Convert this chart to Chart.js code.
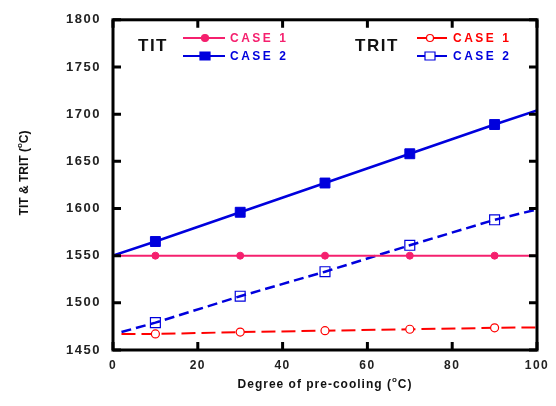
<!DOCTYPE html>
<html>
<head>
<meta charset="utf-8">
<script src="https://cdn.jsdelivr.net/npm/chart.js@4.4.0/dist/chart.umd.min.js"></script>
<style>
  html, body { margin: 0; padding: 0; background: #fff; }
  #wrap { width: 556px; height: 406px; position: relative; }
</style>
</head>
<body>
<div id="wrap"><canvas id="c" width="556" height="406"></canvas></div>
<script>
// ---- data ----
const xTIT = [0, 10, 30, 50, 70, 90, 100];
const titCase1 = [1550, 1550, 1550, 1550, 1550, 1550, 1550];
const titCase2 = [1550, 1565, 1596, 1627, 1658, 1689, 1704];
const xTRIT = [2, 10, 30, 50, 70, 90, 100];
const tritCase1 = [1467, 1467, 1469, 1470.5, 1472, 1473.5, 1474];
const tritCase2 = [1469, 1479, 1507, 1533, 1561, 1588, 1599];
const markerShown = [false, true, true, true, true, true, false];
const xTicks = [0, 20, 40, 60, 80, 100];
const yTicks = [1450, 1500, 1550, 1600, 1650, 1700, 1750, 1800];
const legendTitles = ['TIT', 'TRIT'];
const caseLabels = ['CASE 1', 'CASE 2'];
const xTitle = ['Degree of pre-cooling (', 'o', 'C)'];
const yTitle = ['TIT & TRIT (', 'o', 'C)'];

const PINK = '#f5206e', BLUE = '#0000dd', RED = '#ff0000';

function pts(xs, ys) { return xs.map((x, i) => ({ x: x, y: ys[i] })); }
function radii(r) { return markerShown.map(s => s ? r : 0); }

const datasets = [
  { label: 'TIT CASE 1', data: pts(xTIT, titCase1), borderColor: PINK, backgroundColor: PINK,
    borderWidth: 2, pointStyle: 'circle', pointRadius: radii(3.5), pointBorderWidth: 1,
    pointBackgroundColor: PINK, pointBorderColor: PINK },
  { label: 'TIT CASE 2', data: pts(xTIT, titCase2), borderColor: BLUE, backgroundColor: BLUE,
    borderWidth: 2.5, pointStyle: 'rect', pointRadius: radii(7), pointBorderWidth: 1,
    pointBackgroundColor: BLUE, pointBorderColor: BLUE },
  { label: 'TRIT CASE 1', data: pts(xTRIT, tritCase1), borderColor: RED, backgroundColor: '#fff',
    borderWidth: 2, borderDash: [14, 6], pointStyle: 'circle', pointRadius: radii(4), pointBorderWidth: 1.2,
    pointBackgroundColor: '#fff', pointBorderColor: RED },
  { label: 'TRIT CASE 2', data: pts(xTRIT, tritCase2), borderColor: BLUE, backgroundColor: '#fff',
    borderWidth: 2.5, borderDash: [10, 5], pointStyle: 'rect', pointRadius: radii(7), pointBorderWidth: 1.2,
    pointBackgroundColor: 'rgba(255,255,255,0)', pointBorderColor: BLUE }
];

function drawSup(ctx, parts, x, y, font, supFont, align) {
  ctx.font = font;
  const w0 = ctx.measureText(parts[0]).width;
  const w2 = ctx.measureText(parts[2]).width;
  ctx.font = supFont;
  const w1 = ctx.measureText(parts[1]).width;
  const total = w0 + w1 + w2;
  let sx = align === 'center' ? x - total / 2 : x;
  ctx.textAlign = 'left';
  ctx.textBaseline = 'middle';
  ctx.font = font; ctx.fillText(parts[0], sx, y);
  ctx.font = supFont; ctx.fillText(parts[1], sx + w0, y - 5);
  ctx.font = font; ctx.fillText(parts[2], sx + w0 + w1, y);
}

const framePlugin = {
  id: 'frame',
  beforeDraw(chart) {
    chart.ctx.letterSpacing = '1.5px';
  },
  afterDraw(chart) {
    const ctx = chart.ctx, a = chart.chartArea;
    const xs = chart.scales.x, ys = chart.scales.y;
    ctx.save();
    ctx.letterSpacing = '0px';
    ctx.strokeStyle = '#000';
    ctx.lineWidth = 3;
    ctx.strokeRect(a.left, a.top, a.right - a.left, a.bottom - a.top);
    const L = 8;
    ctx.beginPath();
    xTicks.forEach(v => {
      const px = xs.getPixelForValue(v);
      ctx.moveTo(px, a.bottom); ctx.lineTo(px, a.bottom - L);
      ctx.moveTo(px, a.top); ctx.lineTo(px, a.top + L);
    });
    yTicks.forEach(v => {
      const py = ys.getPixelForValue(v);
      ctx.moveTo(a.left, py); ctx.lineTo(a.left + L, py);
      ctx.moveTo(a.right, py); ctx.lineTo(a.right - L, py);
    });
    ctx.stroke();

    // axis titles
    ctx.fillStyle = '#111';
    ctx.letterSpacing = '1px';
    drawSup(ctx, xTitle, (a.left + a.right) / 2, 385, 'bold 12px "Liberation Sans", Arial, sans-serif',
      'bold 8px "Liberation Sans", Arial, sans-serif', 'center');
    ctx.save();
    ctx.translate(25, 173);
    ctx.rotate(-Math.PI / 2);
    ctx.letterSpacing = '0px';
    drawSup(ctx, yTitle, 0, 0, 'bold 12px "Liberation Sans", Arial, sans-serif',
      'bold 8px "Liberation Sans", Arial, sans-serif', 'center');
    ctx.restore();

    // legend
    const groups = [
      { title: legendTitles[0], tx: 138, lx0: 183, lx1: 225, mx: 205, textX: 230, ds: [0, 1] },
      { title: legendTitles[1], tx: 355, lx0: 417, lx1: 447, mx: 430, textX: 453, ds: [2, 3] }
    ];
    const rowY = [38, 56];
    groups.forEach(g => {
      ctx.letterSpacing = '1.5px';
      ctx.font = 'bold 17px "Liberation Sans", Arial, sans-serif';
      ctx.fillStyle = '#111';
      ctx.textAlign = 'left'; ctx.textBaseline = 'middle';
      ctx.fillText(g.title, g.tx, 46);
      g.ds.forEach((di, k) => {
        const d = datasets[di];
        const y = rowY[k];
        ctx.setLineDash([]);
        ctx.strokeStyle = d.borderColor;
        ctx.lineWidth = 2;
        ctx.beginPath(); ctx.moveTo(g.lx0, y); ctx.lineTo(g.lx1, y); ctx.stroke();
        const r = d.pointStyle === 'rect' ? 5 : 3.5;
        ctx.lineWidth = 1.2;
        ctx.fillStyle = d.pointBackgroundColor === 'rgba(255,255,255,0)' ? '#fff' : d.pointBackgroundColor;
        ctx.strokeStyle = d.pointBorderColor;
        ctx.beginPath();
        if (d.pointStyle === 'rect') ctx.rect(g.mx - r, y - r * 0.8, 2 * r, 1.6 * r);
        else ctx.arc(g.mx, y, r, 0, Math.PI * 2);
        ctx.fill(); ctx.stroke();
        ctx.letterSpacing = '2.5px';
        ctx.font = 'bold 12px "Liberation Sans", Arial, sans-serif';
        ctx.fillStyle = d.borderColor;
        ctx.fillText(caseLabels[k], g.textX, y + 1);
      });
    });
    ctx.restore();
  }
};

new Chart(document.getElementById('c'), {
  type: 'line',
  data: { datasets: datasets },
  plugins: [framePlugin],
  options: {
    responsive: false,
    animation: false,
    events: [],
    layout: { padding: { left: 0, right: 19, top: 13, bottom: 0 } },
    plugins: { legend: { display: false }, tooltip: { enabled: false } },
    elements: { line: { tension: 0 } },
    scales: {
      x: {
        type: 'linear', min: 0, max: 100,
        afterFit(s) { s.height = 56; },
        afterBuildTicks(s) { s.ticks = xTicks.map(v => ({ value: v })); },
        grid: { display: false, drawTicks: false },
        border: { display: false },
        ticks: { padding: 8, color: '#222', maxRotation: 0, callback: v => String(v),
          font: { family: '"Liberation Sans", Arial, sans-serif', size: 12, weight: 'bold' } }
      },
      y: {
        type: 'linear', min: 1450, max: 1800,
        afterFit(s) { s.width = 113; },
        afterBuildTicks(s) { s.ticks = yTicks.map(v => ({ value: v })); },
        grid: { display: false, drawTicks: false },
        border: { display: false },
        ticks: { padding: 12, color: '#222', callback: v => String(v),
          font: { family: '"Liberation Sans", Arial, sans-serif', size: 13, weight: 'bold' } }
      }
    }
  }
});
</script>
</body>
</html>
